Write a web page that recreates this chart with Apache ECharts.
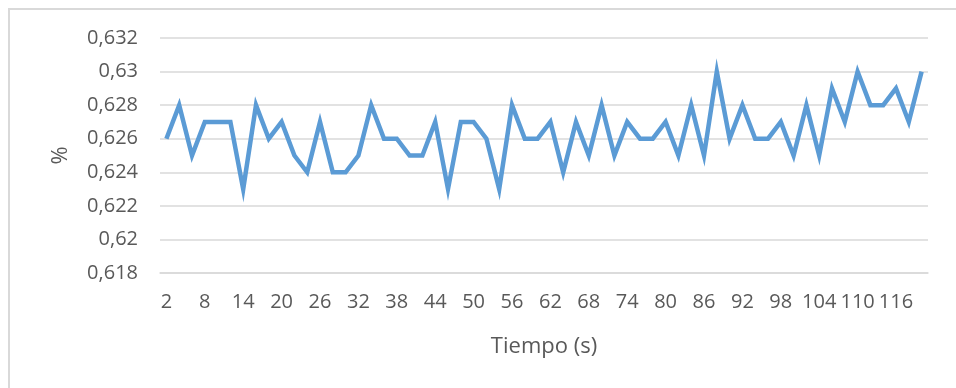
<!DOCTYPE html>
<html>
<head>
<meta charset="utf-8">
<script src="https://cdn.jsdelivr.net/npm/echarts@6/dist/echarts.min.js"></script>
<style>
html,body{margin:0;padding:0;background:#fff;}
#frame{position:absolute;left:8px;top:8px;width:960px;height:400px;border-left:2px solid #d9d9d9;border-top:2px solid #d9d9d9;box-sizing:border-box;}
#chart{position:absolute;left:0;top:0;width:956px;height:388px;}
</style>
</head>
<body>
<div id="frame"></div>
<div id="chart"></div>
<script>
const categories = [2,4,6,8,10,12,14,16,18,20,22,24,26,28,30,32,34,36,38,40,42,44,46,48,50,52,54,56,58,60,62,64,66,68,70,72,74,76,78,80,82,84,86,88,90,92,94,96,98,100,102,104,106,108,110,112,114,116,118,120];
const values = [
0.626,0.628,0.625,0.627,0.627,0.627,0.623,0.628,0.626,0.627,
0.625,0.624,0.627,0.624,0.624,0.625,0.628,0.626,0.626,0.625,
0.625,0.627,0.623,0.627,0.627,0.626,0.623,0.628,0.626,0.626,
0.627,0.624,0.627,0.625,0.628,0.625,0.627,0.626,0.626,0.627,
0.625,0.628,0.625,0.630,0.626,0.628,0.626,0.626,0.627,0.625,
0.628,0.625,0.629,0.627,0.630,0.628,0.628,0.629,0.627,0.630];
const yMin = 0.618, yMax = 0.632, yStep = 0.002;
const xTitle = 'Tiempo (s)';
const yTitle = '%';

const font = 'Open Sans';
const chart = echarts.init(document.getElementById('chart'), null, {renderer:'canvas'});
chart.setOption({
  animation:false,
  backgroundColor:'transparent',
  grid:{left:160, right:28, top:38, bottom:115},
  xAxis:{
    type:'category',
    data:categories,
    boundaryGap:true,
    name:xTitle,
    nameLocation:'middle',
    nameGap:63,
    nameTextStyle:{fontFamily:font, fontSize:22, color:'#595959'},
    axisLine:{show:true, lineStyle:{color:'#d9d9d9', width:1.5}},
    axisTick:{show:false},
    axisLabel:{interval:2, fontFamily:font, fontSize:20, color:'#595959', margin:19, hideOverlap:false},
    splitLine:{show:false}
  },
  yAxis:{
    type:'value',
    min:yMin, max:yMax, interval:yStep,
    name:yTitle,
    nameLocation:'middle',
    nameGap:88,
    nameRotate:90,
    nameTextStyle:{fontFamily:font, fontSize:22, color:'#595959'},
    axisLine:{show:false},
    axisTick:{show:false},
    axisLabel:{fontFamily:font, fontSize:20, color:'#595959', margin:22,
      formatter:v=>String(parseFloat(v.toFixed(3))).replace('.',',')},
    splitLine:{lineStyle:{color:'#d9d9d9', width:1.5}}
  },
  series:[{
    type:'line',
    data:values,
    symbol:'none',
    lineStyle:{color:'#5b9bd5', width:4.5, join:'miter'},
    itemStyle:{color:'#5b9bd5'}
  }]
});
</script>
</body>
</html>
